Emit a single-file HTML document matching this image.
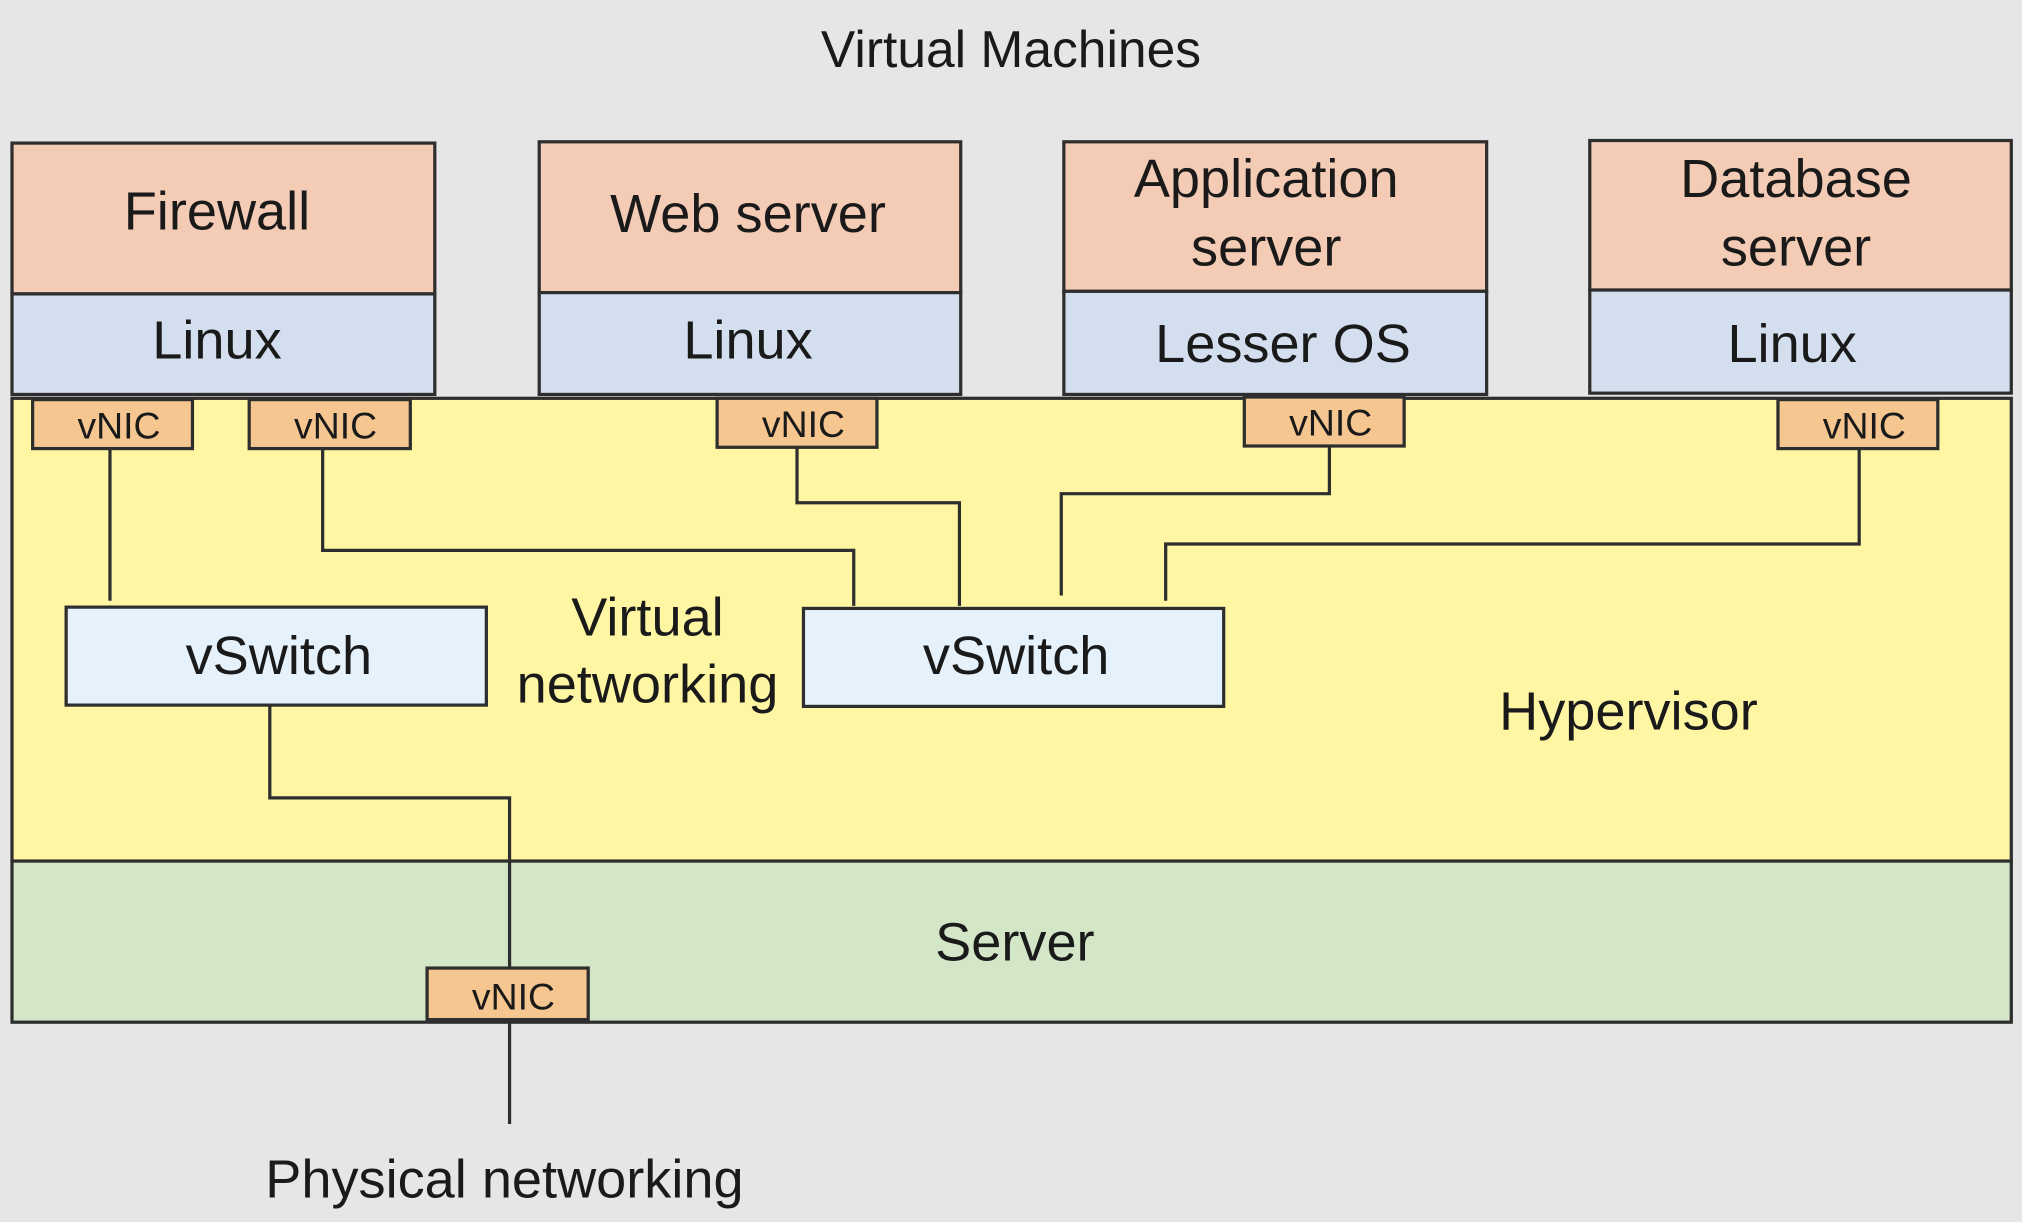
<!DOCTYPE html>
<html><head><meta charset="utf-8"><style>
html,body{margin:0;padding:0;background:#e6e6e6;}
svg{display:block}
text{font-family:"Liberation Sans",sans-serif;fill:#1a1a1a;text-anchor:middle}
</style></head><body>
<svg width="2022" height="1222" viewBox="0 0 1568 948" xmlns="http://www.w3.org/2000/svg">
<rect width="1568" height="948" fill="#e6e6e6"/>
<g stroke="#2e2e2e" stroke-width="2.5">
<rect x="9" y="309" width="1551" height="359" fill="#fff6a3"/>
<rect x="9" y="668" width="1551" height="125" fill="#d4e6c8"/>
<rect x="9" y="111" width="328" height="117" fill="#f4cbb4"/>
<rect x="9" y="228" width="328" height="78" fill="#d3deef"/>
<rect x="418" y="110" width="327" height="117" fill="#f4cbb4"/>
<rect x="418" y="227" width="327" height="79" fill="#d3deef"/>
<rect x="825" y="110" width="328" height="116" fill="#f4cbb4"/>
<rect x="825" y="226" width="328" height="80" fill="#d3deef"/>
<rect x="1233" y="109" width="327" height="116" fill="#f4cbb4"/>
<rect x="1233" y="225" width="327" height="80" fill="#d3deef"/>
<g fill="#f5c68f">
<rect x="25" y="310" width="124" height="38"/>
<rect x="193" y="310" width="125" height="38"/>
<rect x="556" y="309" width="124" height="38"/>
<rect x="965" y="308" width="124" height="38"/>
<rect x="1379" y="310" width="124" height="38"/>
<rect x="331" y="751" width="125" height="40"/>
</g>
<rect x="51" y="471" width="326" height="76" fill="#e6f2fb"/>
<rect x="623" y="472" width="326" height="76" fill="#e6f2fb"/>
<g fill="none">
<path d="M85 348V466"/>
<path d="M250 348V427H662V470"/>
<path d="M618 347V390H744V470"/>
<path d="M1031 346V383H823V462"/>
<path d="M1442 348V422H904V466"/>
<path d="M209 547V619H395V751"/>
<path d="M395 791V872"/>
</g>
</g>
<text x="784" y="52" font-size="40">Virtual Machines</text>
<g font-size="42">
<text x="168" y="178">Firewall</text>
<text x="168" y="278">Linux</text>
<text x="580" y="180">Web server</text>
<text x="580" y="278">Linux</text>
<text x="982" y="153">Application</text>
<text x="982" y="206">server</text>
<text x="995" y="281">Lesser OS</text>
<text x="1393" y="153">Database</text>
<text x="1393" y="206">server</text>
<text x="1390" y="281">Linux</text>
<text x="216" y="523">vSwitch</text>
<text x="788" y="523">vSwitch</text>
<text x="502" y="493">Virtual</text>
<text x="502" y="545">networking</text>
<text x="1263" y="566">Hypervisor</text>
<text x="787" y="745">Server</text>
<text x="391" y="929">Physical networking</text>
</g>
<g font-size="29">
<text x="92" y="340">vNIC</text>
<text x="260" y="340">vNIC</text>
<text x="623" y="339">vNIC</text>
<text x="1032" y="338">vNIC</text>
<text x="1446" y="340">vNIC</text>
<text x="398" y="783">vNIC</text>
</g>
</svg>
</body></html>
